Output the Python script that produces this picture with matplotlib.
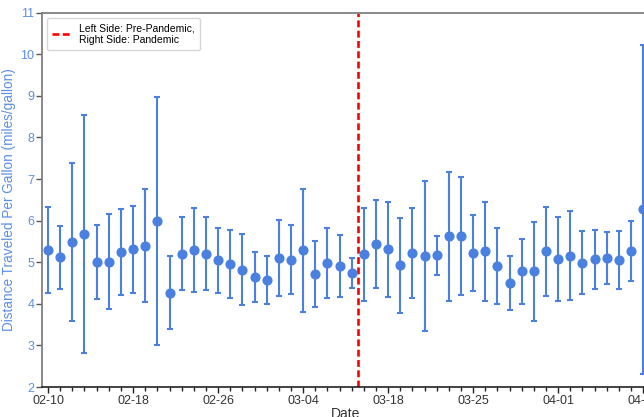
import matplotlib
matplotlib.use("Agg")
import matplotlib.pyplot as plt
import numpy as np

plt.rcParams["font.family"] = ["Liberation Sans", "DejaVu Sans"]

# daily mean distance per gallon and its spread (one standard deviation)
dates = ["02-10", "02-11", "02-12", "02-13", "02-14", "02-15", "02-16",
         "02-18", "02-19", "02-20", "02-21", "02-22", "02-23", "02-24",
         "02-26", "02-27", "02-28", "02-29", "03-01", "03-02", "03-03",
         "03-04", "03-05", "03-06", "03-07", "03-08",
         "03-16", "03-17", "03-18", "03-19", "03-20", "03-21", "03-22",
         "03-23", "03-24", "03-25", "03-26", "03-27", "03-28", "03-29",
         "03-30", "03-31", "04-01", "04-02", "04-03", "04-04", "04-05",
         "04-06", "04-07", "04-08"]
mpg_mean = [5.30, 5.12, 5.49, 5.68, 5.00, 5.01, 5.25, 5.31, 5.40, 6.00,
            4.27, 5.21, 5.30, 5.21, 5.05, 4.95, 4.82, 4.64, 4.58, 5.10,
            5.06, 5.29, 4.72, 4.99, 4.92, 4.74,
            5.19, 5.44, 5.31, 4.93, 5.22, 5.15, 5.17, 5.62, 5.635, 5.23,
            5.26, 4.915, 4.50, 4.78, 4.78, 5.26, 5.08, 5.16, 4.99, 5.07,
            5.10, 5.05, 5.27, 6.28]
mpg_std = [1.04, 0.76, 1.895, 2.87, 0.885, 1.145, 1.04, 1.04, 1.365, 2.985,
           0.875, 0.87, 1.005, 0.875, 0.785, 0.82, 0.85, 0.595, 0.58, 0.91,
           0.825, 1.48, 0.785, 0.84, 0.745, 0.355,
           1.115, 1.065, 1.145, 1.145, 1.08, 1.815, 0.465, 1.55, 1.425, 0.915,
           1.18, 0.915, 0.645, 0.78, 1.195, 1.07, 1.02, 1.075, 0.755, 0.715,
           0.63, 0.705, 0.72, 3.955]
pandemic_start = "03-16"

point_color = "#4a80e0"
text_blue = "#5b8ee6"

x = np.arange(len(dates))
split = dates.index(pandemic_start) - 0.5

fig = plt.figure(figsize=(6.44, 4.17), dpi=100)
ax = fig.add_axes([0.0652, 0.0719, 0.943, 0.8976])

ax.errorbar(x, mpg_mean, yerr=mpg_std, fmt="o", color=point_color,
            ecolor=point_color, elinewidth=1.5, capsize=2.5, capthick=1.5,
            markersize=6.3)
ax.axvline(split, color="red", linestyle="--", linewidth=1.9, dashes=(2.6, 1.3),
           label="Left Side: Pre-Pandemic,\nRight Side: Pandemic")

ax.set_xlim(-0.5, len(dates) - 0.5)
ax.set_ylim(2, 11)
ax.set_yticks(range(2, 12))

ax.set_xticks(x[::7])
ax.set_xticklabels(dates[::7])
ax.set_xticks(x, minor=True)

ax.tick_params(axis="x", which="major", length=4.5, width=1, colors="#222222",
               labelsize=9, labelcolor="#333333", pad=1)
ax.tick_params(axis="x", which="minor", length=3, width=1, colors="#222222")
ax.tick_params(axis="y", length=4, width=1, colors="#555555",
               labelsize=9, labelcolor=text_blue, pad=1.5)

for side in ["left", "top", "right"]:
    ax.spines[side].set_color("#808080")
    ax.spines[side].set_linewidth(1.3)
ax.spines["bottom"].set_color("#222222")
ax.spines["bottom"].set_linewidth(1.2)

ax.set_ylabel("Distance Traveled Per Gallon (miles/gallon)", fontsize=9.8,
              color=text_blue, labelpad=3)
ax.set_xlabel("Date", fontsize=10, color="#333333", labelpad=0)

ax.legend(loc="upper left", fontsize=7.5, frameon=True, edgecolor="#cccccc",
          handlelength=1.8, borderpad=0.5)

fig.savefig("out.png", dpi=100)
